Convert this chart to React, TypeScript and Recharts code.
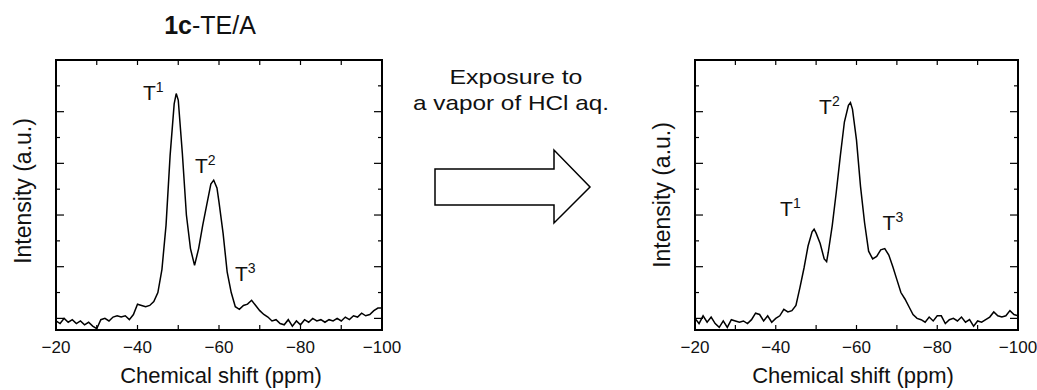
import { LineChart, Line, XAxis, YAxis, ReferenceDot } from 'recharts';

const FONT = '"Liberation Sans", Arial, sans-serif';

const shiftTicks = [-20, -30, -40, -50, -60, -70, -80, -90, -100];
const intensityTicks = [0, 1, 2, 3, 4, 5, 6, 7, 8, 9];

// 1c-TE/A as prepared
const beforeShift = [
  -20, -21, -22, -23, -24, -25, -26, -27, -28, -29, -30, -31, -32, -33, -34, -35, -36, -37, -38, -39,
  -40, -41, -42, -43, -44, -45, -46, -47, -48, -49, -49.5, -50, -51, -52, -53, -54, -55, -56, -57, -58,
  -58.7, -59.5, -60, -61, -62, -63, -64, -65, -66, -67, -68, -69, -70, -71, -72, -73, -74, -75, -76, -77,
  -78, -79, -80, -81, -82, -83, -84, -85, -86, -87, -88, -89, -90, -91, -92, -93, -94, -95, -96, -97,
  -98, -99, -100,
];
const beforeIntensity = [
  -0.1, -0.2, 0.0, -0.15, -0.05, -0.2, -0.1, -0.25, -0.15, -0.3, -0.4, -0.05, 0.0, -0.1, 0.05, 0.1, 0.05, 0.1, -0.05, 0.15,
  0.55, 0.5, 0.45, 0.5, 0.65, 1.0, 1.9, 3.6, 6.3, 8.3, 8.7, 8.45, 6.4, 4.0, 2.7, 2.05, 2.7, 3.6, 4.4, 5.2,
  5.35, 5.05, 4.5, 3.3, 1.8, 1.0, 0.45, 0.35, 0.5, 0.55, 0.7, 0.5, 0.3, 0.15, 0.05, -0.1, -0.05, -0.2, -0.25, -0.05,
  -0.3, -0.1, -0.25, -0.05, -0.15, 0.0, -0.1, -0.05, -0.15, -0.05, -0.1, 0.0, -0.1, 0.05, -0.05, 0.1, 0.05, 0.2, 0.1, 0.15,
  0.3, 0.4, 0.4,
];

// after exposure to HCl vapour
const afterShift = [
  -20, -21, -22, -23, -24, -25, -26, -27, -28, -29, -30, -31, -32, -33, -34, -35, -36, -37, -38, -39,
  -40, -41, -42, -43, -44, -45, -46, -47, -48, -49, -49.5, -50, -51, -52, -52.6, -53, -54, -55, -56, -57,
  -58, -58.5, -59, -60, -61, -62, -63, -64, -65, -66, -67, -68, -69, -70, -71, -72, -73, -74, -75, -76,
  -77, -78, -79, -80, -81, -82, -83, -84, -85, -86, -87, -88, -89, -90, -91, -92, -93, -94, -95, -96,
  -97, -98, -99, -100,
];
const afterIntensity = [
  0.0, -0.2, 0.1, -0.15, 0.05, -0.2, -0.35, -0.1, -0.35, -0.05, -0.1, -0.15, -0.1, -0.2, -0.05, 0.2, 0.15, -0.1, 0.1, -0.15,
  0.0, 0.1, 0.35, 0.25, 0.3, 0.5, 1.2, 1.95, 2.8, 3.35, 3.45, 3.3, 2.9, 2.3, 2.2, 2.55, 3.6, 4.9, 6.3, 7.6,
  8.25, 8.35, 8.1, 6.9, 5.1, 3.7, 2.6, 2.3, 2.4, 2.65, 2.7, 2.45, 2.0, 1.5, 1.0, 0.75, 0.45, 0.15, 0.0, -0.05,
  -0.15, 0.05, -0.1, 0.1, 0.1, -0.2, -0.05, 0.0, -0.1, 0.05, -0.15, -0.05, -0.3, -0.1, -0.15, -0.05, 0.05, 0.25, 0.1, 0.05,
  0.1, 0.3, 0.15, 0.1,
];

const beforePeaks = [
  { sup: '1', shift: -41.35, intensity: 8.47 },
  { sup: '2', shift: -54.1, intensity: 5.62 },
  { sup: '3', shift: -63.9, intensity: 1.44 },
];
const afterPeaks = [
  { sup: '1', shift: -41.07, intensity: 3.96 },
  { sup: '2', shift: -50.74, intensity: 7.92 },
  { sup: '3', shift: -66.46, intensity: 3.41 },
];

const fmtShift = (v: number) => (v < 0 ? '\u2212' + Math.abs(v) : String(v));

// tick label coords come in at the axis line because tickSize and tickMargin are 0
const yTick = (side: 'left' | 'right') => (props: any) => {
  const { x, y, payload } = props;
  const len = payload.value % 2 === 0 ? 7 : 3;
  const edge = side === 'left' ? x + 1 : x - 1;
  const dx = side === 'left' ? len : -len;
  return <line x1={edge} y1={y} x2={edge + dx} y2={y} stroke="#000" strokeWidth={1.2} />;
};

const topTick = (props: any) => {
  const { x, y } = props;
  return <line x1={x} y1={y + 1} x2={x} y2={y + 5} stroke="#000" strokeWidth={1.2} />;
};

const bottomTick = (props: any) => {
  const { x, y, payload } = props;
  return (
    <g>
      <line x1={x} y1={y - 1} x2={x} y2={y - 5} stroke="#000" strokeWidth={1.2} />
      {payload.value % 20 === 0 && (
        <text x={x} y={y + 23} textAnchor="middle" fontSize={17} fontFamily={FONT} fill="#111">
          {fmtShift(payload.value)}
        </text>
      )}
    </g>
  );
};

const frame = { stroke: '#000', strokeWidth: 2, strokeLinecap: 'square' as const };

interface PanelProps {
  left: number;
  width: number;
  marginRight: number;
  shift: number[];
  intensity: number[];
  peaks: { sup: string; shift: number; intensity: number }[];
  xTitleX: number;
  yTitleY: number;
}

function Panel({ left, width, marginRight, shift, intensity, peaks, xTitleX, yTitleY }: PanelProps) {
  const data = shift.map((s, i) => ({ shift: s, intensity: intensity[i] }));
  return (
    <div style={{ position: 'absolute', left, top: 0, width, height: 390 }}>
      <LineChart width={width} height={390} data={data} margin={{ top: 59, right: marginRight - 1, bottom: 59, left: 55 }}>
        <XAxis
          xAxisId="b"
          type="number"
          dataKey="shift"
          domain={[-100, -20]}
          reversed
          ticks={shiftTicks}
          interval={0}
          height={1}
          tickSize={0}
          tickMargin={0}
          tickLine={false}
          axisLine={frame}
          tick={bottomTick}
        />
        <XAxis
          xAxisId="t"
          orientation="top"
          type="number"
          dataKey="shift"
          domain={[-100, -20]}
          reversed
          ticks={shiftTicks}
          interval={0}
          height={1}
          tickSize={0}
          tickMargin={0}
          tickLine={false}
          axisLine={frame}
          tick={topTick}
        />
        <YAxis
          yAxisId="l"
          type="number"
          domain={[-0.45, 10]}
          ticks={intensityTicks}
          interval={0}
          width={1}
          tickSize={0}
          tickMargin={0}
          tickLine={false}
          axisLine={frame}
          tick={yTick('left')}
          allowDataOverflow
        />
        <YAxis
          yAxisId="r"
          orientation="right"
          type="number"
          domain={[-0.45, 10]}
          ticks={intensityTicks}
          interval={0}
          width={1}
          tickSize={0}
          tickMargin={0}
          tickLine={false}
          axisLine={frame}
          tick={yTick('right')}
          allowDataOverflow
        />
        <Line
          xAxisId="b"
          yAxisId="l"
          type="linear"
          dataKey="intensity"
          stroke="#000"
          strokeWidth={1.5}
          dot={false}
          isAnimationActive={false}
        />
        {peaks.map((p) => (
          <ReferenceDot
            key={p.sup}
            xAxisId="b"
            yAxisId="l"
            x={p.shift}
            y={p.intensity}
            shape={(s: any) => (
              <text x={s.cx} y={s.cy} fontSize={21} fontFamily={FONT} fill="#111">
                T
                <tspan fontSize={14} dy={-8}>
                  {p.sup}
                </tspan>
              </text>
            )}
          />
        ))}
      </LineChart>
      <svg width={width} height={390} style={{ position: 'absolute', left: 0, top: 0, pointerEvents: 'none' }}>
        <text x={xTitleX} y={383} textAnchor="middle" fontSize={22} fontFamily={FONT} fill="#111">
          Chemical shift (ppm)
        </text>
        <text
          x={0}
          y={0}
          transform={`translate(31, ${yTitleY}) rotate(-90)`}
          textAnchor="middle"
          fontSize={23}
          fontFamily={FONT}
          fill="#111"
        >
          Intensity (a.u.)
        </text>
      </svg>
    </div>
  );
}

export default function App() {
  return (
    <div style={{ position: 'absolute', left: 0, top: 0, width: 1037, height: 390, background: '#fff', overflow: 'hidden' }}>
      <Panel
        left={0}
        width={420}
        marginRight={38}
        shift={beforeShift}
        intensity={beforeIntensity}
        peaks={beforePeaks}
        xTitleX={221}
        yTitleY={191}
      />
      <Panel
        left={639}
        width={398}
        marginRight={19}
        shift={afterShift}
        intensity={afterIntensity}
        peaks={afterPeaks}
        xTitleX={214}
        yTitleY={195}
      />
      <svg width={1037} height={390} style={{ position: 'absolute', left: 0, top: 0, pointerEvents: 'none' }}>
        <text x={210} y={34} textAnchor="middle" fontSize={25} fontFamily={FONT} fill="#111">
          <tspan fontWeight="bold">1c</tspan>-TE/A
        </text>
        <text
          x={516}
          y={84}
          textAnchor="middle"
          fontSize={21}
          fontFamily={FONT}
          fill="#111"
          textLength={133}
          lengthAdjust="spacingAndGlyphs"
        >
          Exposure to
        </text>
        <text
          x={511}
          y={110}
          textAnchor="middle"
          fontSize={21}
          fontFamily={FONT}
          fill="#111"
          textLength={196}
          lengthAdjust="spacingAndGlyphs"
        >
          a vapor of HCl aq.
        </text>
        <polygon
          points="435,169 554,169 554,150 590,187 554,223 554,205 435,205"
          fill="#fff"
          stroke="#000"
          strokeWidth={1.5}
        />
      </svg>
    </div>
  );
}
